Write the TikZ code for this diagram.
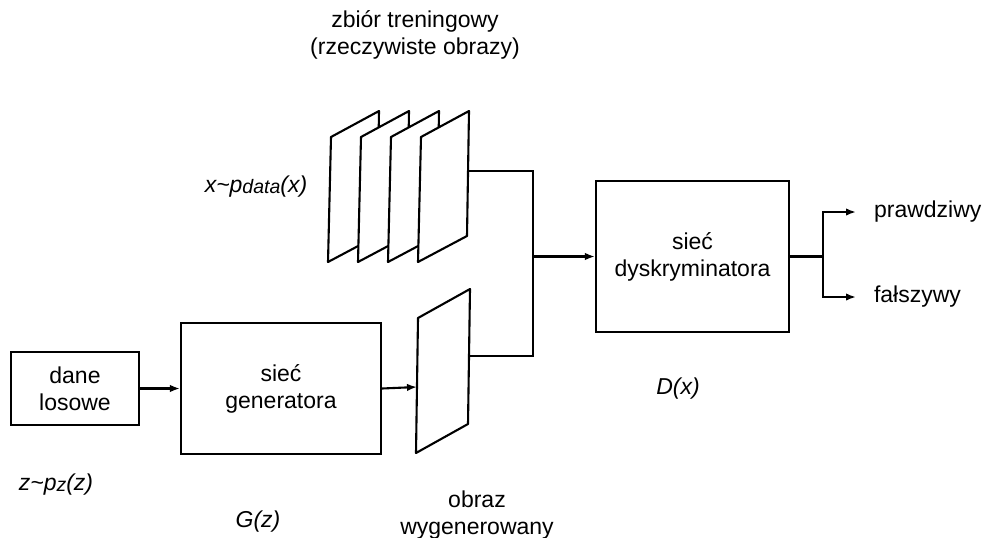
\documentclass[tikz,border=0pt]{standalone}
\usepackage{fontspec}
\setmainfont{Liberation Sans}
\usetikzlibrary{arrows.meta}
\newcommand{\lowsub}[1]{\raisebox{-0.8pt}{\fontsize{19.5}{20}\selectfont #1}}
\begin{document}
\begin{tikzpicture}
[
x=1pt,y=-1pt,
line width=2.1pt,
box/.style={draw,rectangle,align=center,inner sep=0pt},
sheet/.style={draw,fill=white,line join=round},
arr/.style={-{Latex[length=10pt,width=7.5pt]}},
lbl/.style={align=center,inner sep=0pt},
outlbl/.style={anchor=west,inner ysep=0pt,inner xsep=17pt}
]
\useasboundingbox (0,0) rectangle (985,538);
\fontsize{23}{27}\selectfont
  \node[box,minimum width=128pt,minimum height=73pt] (dane) at (75,388.5) {dane\\losowe};
  \node[box,minimum width=200pt,minimum height=131pt] (gen) at (281,388.5) {sieć\\generatora};
  \node[box,minimum width=193pt,minimum height=151pt] (disc) at (692.5,256.5) {sieć\\dyskryminatora};
  % zbior treningowy
  \foreach \i in {0,...,3}
    \draw[sheet] (328+30*\i,262) -- (331+30*\i,137) -- (379+30*\i,111) -- (377+30*\i,236) -- cycle;
  \coordinate (sout) at (468,171);
  % obraz wygenerowany
  \draw[sheet] (416,453) -- (418,318) -- (470,289) -- (468,424) -- cycle;
  \coordinate (gin) at (417,387);
  \coordinate (gout) at (469,356);
  \coordinate (join) at (533,256.5);
  \coordinate (split) at (823,256.5);
  \node[outlbl] (real) at (856,212) {prawdziwy};
  \node[outlbl] (fake) at (856,297) {fałszywy};
  \draw[arr] (dane) -- (gen);
  \draw[arr] (gen.east) -- (gin);
  \draw (sout) -| (join);
  \draw (gout) -| (join);
  \draw[arr] (join) -- (disc);
  \draw (disc) -- (split);
  \draw[arr] (split) |- (real.west);
  \draw[arr] (split) |- (fake.west);
  \node[lbl] (train) at (415,34.5) {zbiór treningowy\\(rzeczywiste obrazy)};
  \node[lbl] (gimg) at (477,515) {obraz\\wygenerowany};
  \node[lbl] (px) at (256,187) {\itshape x\textasciitilde p\lowsub{data}(x)};
  \node[lbl] (pz) at (56,485) {\itshape z\textasciitilde p\lowsub{z}(z)};
  \node[lbl] (gz) at (258,522) {\itshape G(z)};
  \node[lbl] (dx) at (678,389) {\itshape D(x)};
\end{tikzpicture}
\end{document}
